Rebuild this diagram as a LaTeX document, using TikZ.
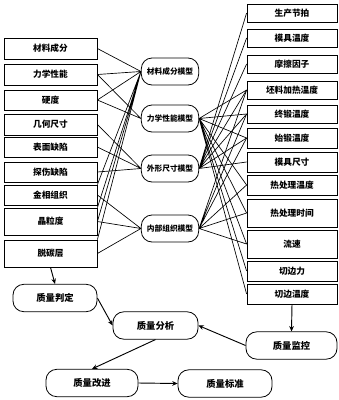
\documentclass[tikz,border=0pt]{standalone}
\usepackage{fontspec}
\setmainfont{Noto Sans CJK SC}
\usetikzlibrary{arrows.meta}

\begin{document}
\begin{tikzpicture}[x=0.75pt,y=-0.75pt,
  lbox/.style={draw,line width=0.6pt,minimum width=69.75pt,minimum height=#1,inner sep=0pt,font=\fontsize{6.5}{7}\selectfont\bfseries},
  rbox/.style={draw,line width=0.6pt,minimum width=67.5pt,minimum height=#1,inner sep=0pt,font=\fontsize{6.5}{7}\selectfont\bfseries},
  model/.style={draw,line width=0.6pt,rounded corners=8pt,minimum width=43pt,minimum height=20.25pt,inner xsep=3pt,inner ysep=0pt,font=\fontsize{5.8}{7}\selectfont\bfseries},
  qnode/.style={draw,line width=0.6pt,rounded corners=8pt,minimum width=#1,minimum height=20.5pt,inner sep=0pt,font=\fontsize{7}{8}\selectfont\bfseries},
  link/.style={line width=0.5pt},
  arr/.style={line width=0.7pt,-{Stealth[length=4pt,width=3.5pt]}}]
\useasboundingbox (0,0) rectangle (339,400);
% left: quality indexes
\node[lbox=15.75pt] (cf) at (50.5,48.5) {材料成分};
\node[lbox=15.75pt] (lx) at (50.5,74.5) {力学性能};
\node[lbox=15pt] (yd) at (50.5,100) {硬度};
\node[lbox=15.75pt] (jh) at (50.5,124.5) {几何尺寸};
\node[lbox=15pt] (bm) at (50.5,147) {表面缺陷};
\node[lbox=15pt] (ts) at (50.5,172) {探伤缺陷};
\node[lbox=15pt] (jx) at (50.5,195) {金相组织};
\node[lbox=20.25pt] (jl) at (50.5,221.5) {晶粒度};
\node[lbox=20.25pt] (tt) at (50.5,253.5) {脱碳层};
% middle: models
\node[model] (m1) at (170,71.5) {材料成分模型};
\node[model] (m2) at (170,118.5) {力学性能模型};
\node[model] (m3) at (170,168.5) {外形尺寸模型};
\node[model] (m4) at (170,228.5) {内部组织模型};
% right: process parameters
\node[rbox=13.5pt] (sc) at (292,13) {生产节拍};
\node[rbox=13.5pt] (mw) at (292,38) {模具温度};
\node[rbox=13.5pt] (mc) at (292,64) {摩擦因子};
\node[rbox=13.5pt] (pl) at (292,90) {坯料加热温度};
\node[rbox=13.5pt] (zd) at (292,114) {终锻温度};
\node[rbox=15pt] (sd) at (292,138) {始锻温度};
\node[rbox=15pt] (mj) at (292,162) {模具尺寸};
\node[rbox=15pt] (rw) at (292,185) {热处理温度};
\node[rbox=21pt] (rs) at (292,213) {热处理时间};
\node[rbox=21pt] (ls) at (292,244) {流速};
\node[rbox=15pt] (qf) at (292,271) {切边力};
\node[rbox=15pt] (qw) at (292,294) {切边温度};
% bottom: quality loop
\node[qnode=63pt] (pd) at (55,298) {质量判定};
\node[qnode=63.75pt] (fx) at (155.5,325.5) {质量分析};
\node[qnode=68.25pt] (jk) at (291.5,345.5) {质量监控};
\node[qnode=69pt] (gj) at (92,383) {质量改进};
\node[qnode=70.5pt] (bz) at (225,383.5) {质量标准};

% index -- model
\draw[link] (cf.east) -- (m1.west) (lx.east) -- (m1.west) (yd.east) -- (m1.west)
  (jx.north east) -- (m1.west) (jl.north east) -- (m1.west) (jl.east) -- (m1.west) (tt.north east) -- (m1.west);
\draw[link] (lx.east) -- (m2.west) (yd.east) -- (m2.west);
\draw[link] (jh.east) -- (m3.west) (bm.east) -- (m3.west) (ts.east) -- (m3.west);
\draw[link] (jx.east) -- (m4.west) (jl.east) -- (m4.west) (tt.east) -- (m4.west);
% model -- parameter
\draw[link] (m2.east) -- (pl.west) (m2.east) -- (zd.west) (m2.east) -- (sd.west)
  (m2.east) -- (rw.west) (m2.east) -- (rs.west) (m2.east) -- (ls.west)
  (m2.east) -- (qf.west) (m2.east) -- (qw.west);
\draw[link] (m3.east) -- (sc.west) (m3.east) -- (mw.west) (m3.east) -- (mc.west)
  (m3.east) -- (pl.west) (m3.east) -- (zd.west) (m3.east) -- (sd.west) (m3.east) -- (mj.west);
\draw[link] (m4.east) -- (pl.west) (m4.east) -- (zd.west) (m4.east) -- (sd.west)
  (m4.east) -- (rw.west) (m4.east) -- (rs.west) (m4.east) -- (ls.west);
% quality loop
\draw[arr] (tt.south) -- (pd.north);
\draw[arr] (pd.east) -- (fx.west);
\draw[arr] (fx.south) -- (gj.north);
\draw[arr] (gj.east) -- (bz.west);
\draw[arr] (qw.south) -- (jk.north);
\draw[arr] (jk.west) -- (fx.east);
\end{tikzpicture}
\end{document}
